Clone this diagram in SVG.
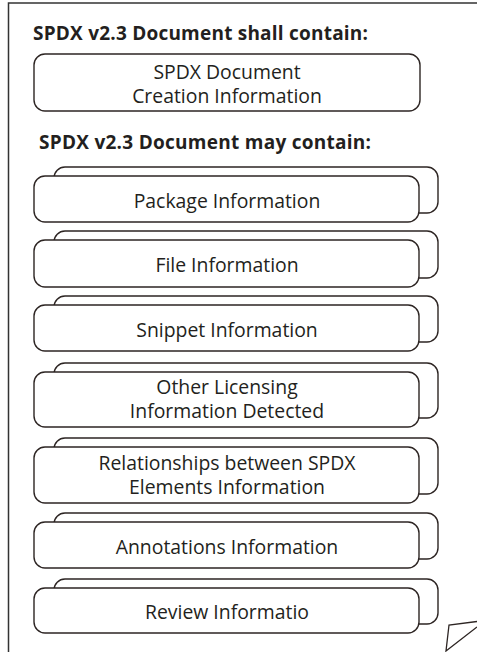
<svg xmlns="http://www.w3.org/2000/svg" width="477" height="652" viewBox="0 0 477 652">
<style>
.bx{fill:#fff;stroke:#2d2523;stroke-width:1.4}
.t{font-family:"Open Sans","Liberation Sans",sans-serif;font-size:19.4px;fill:#231f20;text-anchor:middle}
.h{font-family:"Open Sans","Liberation Sans",sans-serif;font-size:19px;font-weight:bold;fill:#231f20}
.pg{fill:none;stroke:#333;stroke-width:1.5}
</style>
<rect width="477" height="652" fill="#fff"/>
<g id="page">
<path class="pg" d="M477,3 H8.5 V652"/>
<path d="M477,621.5 L449,625 L446,651 L477,627" fill="none" stroke="#2d2523" stroke-width="1.3"/>
</g>
<text class="h" x="33" y="40" textLength="335">SPDX v2.3 Document shall contain:</text>
<text class="h" x="39" y="149" textLength="332">SPDX v2.3 Document may contain:</text>
<g id="creation">
<rect class="bx" x="34" y="54" width="386" height="57" rx="11"/>
<text class="t" x="227" y="79">SPDX Document</text>
<text class="t" x="227" y="103">Creation Information</text>
</g>
<g id="package">
<rect class="bx" x="54" y="167" width="384" height="46" rx="11"/>
<rect class="bx" x="34" y="176" width="385" height="46" rx="11"/>
<text class="t" x="227" y="208">Package Information</text>
</g>
<g id="file">
<rect class="bx" x="54" y="231" width="384" height="47" rx="11"/>
<rect class="bx" x="34" y="240" width="385" height="47" rx="11"/>
<text class="t" x="227" y="272">File Information</text>
</g>
<g id="snippet">
<rect class="bx" x="54" y="296" width="384" height="46" rx="11"/>
<rect class="bx" x="34" y="305" width="385" height="46" rx="11"/>
<text class="t" x="227" y="337">Snippet Information</text>
</g>
<g id="licensing">
<rect class="bx" x="54" y="363" width="384" height="55" rx="11"/>
<rect class="bx" x="34" y="372" width="385" height="55" rx="11"/>
<text class="t" x="227" y="394">Other Licensing</text>
<text class="t" x="227" y="418">Information Detected</text>
</g>
<g id="relationships">
<rect class="bx" x="54" y="438" width="384" height="56" rx="11"/>
<rect class="bx" x="34" y="447" width="385" height="56" rx="11"/>
<text class="t" x="227" y="470">Relationships between SPDX</text>
<text class="t" x="227" y="494">Elements Information</text>
</g>
<g id="annotations">
<rect class="bx" x="54" y="513" width="384" height="46" rx="11"/>
<rect class="bx" x="34" y="522" width="385" height="46" rx="11"/>
<text class="t" x="227" y="554">Annotations Information</text>
</g>
<g id="review">
<rect class="bx" x="54" y="579" width="384" height="45" rx="11"/>
<rect class="bx" x="34" y="588" width="385" height="45" rx="11"/>
<text class="t" x="227" y="619">Review Informatio</text>
</g>
<g id="connectors"/>
</svg>
